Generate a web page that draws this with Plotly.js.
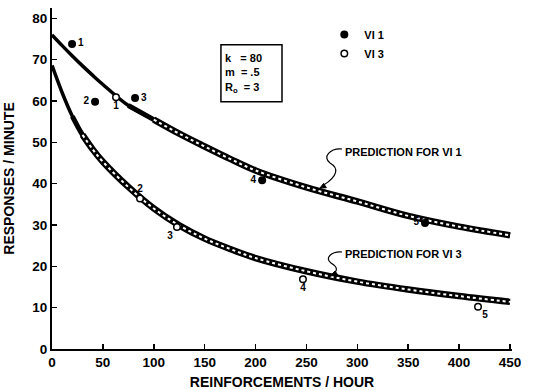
<!DOCTYPE html>
<html><head><meta charset="utf-8">
<script src="https://cdn.plot.ly/plotly-3.0.1.min.js"></script>
<style>html,body{margin:0;padding:0;background:#fff}#chart{width:533px;height:390px}</style>
</head><body><div id="chart"></div>
<script>
// Prediction curves
const curveX  = [0, 10, 20, 30, 40, 50, 75, 100, 125, 150, 175, 200, 250, 300, 350, 400, 450];
const predVI1 = [76, 73.4, 70.9, 68.5, 66.2, 64.0, 58.9, 55.5, 52.1, 49.0, 46.0, 43.2, 39.1, 35.7, 32.2, 29.6, 27.5];
const predVI3 = [68.6, 62.0, 56.3, 51.8, 48.3, 45.3, 39.2, 34.0, 29.9, 26.7, 24.2, 22.0, 18.8, 16.3, 14.4, 12.8, 11.4];

// Observed points
const vi1X = [19.7, 42.3, 81.6, 206.5, 366.5];
const vi1Y = [73.8, 59.8, 60.7, 40.8, 30.5];
const vi3X = [62.9, 86.5, 122.8, 246.6, 418.6];
const vi3Y = [60.9, 36.4, 29.5, 16.9, 10.2];
const pointLabels = ['1', '2', '3', '4', '5'];

const xTicks = [0, 50, 100, 150, 200, 250, 300, 350, 400, 450];
const yTicks = [0, 10, 20, 30, 40, 50, 60, 70, 80];

const FONT = 'Liberation Sans, Arial, sans-serif';

function sub(xs, ys, from) {
  const ox = [], oy = [];
  xs.forEach((x, i) => { if (x >= from) { ox.push(x); oy.push(ys[i]); } });
  return {x: ox, y: oy};
}
function band(ys, midFrom, from) {
  const m = sub(curveX, ys, midFrom);
  const s = sub(curveX, ys, from);
  return [
    {x: curveX, y: ys, mode: 'lines', line: {color: '#000', width: 3.5, shape: 'spline'}, showlegend: false, hoverinfo: 'skip'},
    {x: m.x, y: m.y, mode: 'lines', line: {color: '#000', width: 5, shape: 'spline'}, showlegend: false, hoverinfo: 'skip'},
    {x: s.x, y: s.y, mode: 'lines', line: {color: '#000', width: 6.5, shape: 'spline'}, showlegend: false, hoverinfo: 'skip'},
    {x: s.x, y: s.y, mode: 'lines', line: {color: '#fff', width: 2, dash: 'dot', shape: 'spline'}, showlegend: false, hoverinfo: 'skip'}
  ];
}
const labelFont = {family: FONT, size: 10, color: '#000', weight: 'bold'};

const traces = [
  ...band(predVI1, 75, 100),
  ...band(predVI3, 20, 30),
  {x: vi1X, y: vi1Y, mode: 'markers', name: 'VI 1',
   marker: {symbol: 'circle', size: 8, color: '#000'}},
  {x: vi3X, y: vi3Y, mode: 'markers', name: 'VI 3',
   marker: {symbol: 'circle', size: 6.5, color: '#fff', line: {color: '#000', width: 1.5}}},
  {x: vi1X, y: vi1Y, mode: 'markers+text', text: pointLabels, showlegend: false, hoverinfo: 'skip',
   marker: {size: 8, opacity: 0},
   textposition: ['middle right', 'middle left', 'middle right', 'middle left', 'middle left'],
   textfont: labelFont},
  {x: vi3X, y: vi3Y, mode: 'markers+text', text: pointLabels, showlegend: false, hoverinfo: 'skip',
   marker: {size: 5, opacity: 0},
   textposition: ['bottom center', 'top center', 'bottom left', 'bottom center', 'bottom right'],
   textfont: labelFont}
];

const axisCommon = {
  showgrid: false, zeroline: false, showline: true, linecolor: '#000', linewidth: 2,
  ticks: 'inside', ticklen: 5, tickwidth: 1.5, tickcolor: '#000',
  tickfont: {family: FONT, size: 13.5, color: '#000', weight: 'bold'}
};

const squiggle1 = 'M 285.0 48.39 C 273.2 48.63, 265.3 46.46, 273.2 45.0 C 282.0 43.79, 281.0 41.86, 266.5 39.6';
const head1 = 'M 263.3 38.95 L 269.6 39.02 L 266.9 40.06 Z';
const squiggle3 = 'M 285.0 23.47 C 275.1 23.7, 267.3 22.0, 274.1 20.8 C 281.0 19.84, 281.0 18.87, 275.3 17.95';
const head3 = 'M 273.2 17.66 L 280.8 17.87 L 278.2 18.88 Z';

const layout = {
  width: 533, height: 390,
  margin: {l: 52, r: 21, t: 8, b: 41},
  paper_bgcolor: '#fff', plot_bgcolor: '#fff',
  font: {family: FONT, color: '#000'},
  xaxis: Object.assign({}, axisCommon, {
    range: [0, 452], tickvals: xTicks, ticktext: xTicks.map(String),
    title: {text: 'REINFORCEMENTS / HOUR', standoff: 12,
            font: {family: FONT, size: 14, color: '#000', weight: 'bold'}}
  }),
  yaxis: Object.assign({}, axisCommon, {
    range: [0, 82.5], tickvals: yTicks, ticktext: yTicks.map(String),
    title: {text: 'RESPONSES / MINUTE', standoff: 14,
            font: {family: FONT, size: 14, color: '#000', weight: 'bold'}}
  }),
  showlegend: true,
  legend: {x: 0.592, xanchor: 'left', y: 0.965, yanchor: 'top', bgcolor: 'rgba(0,0,0,0)',
           font: {family: FONT, size: 11, color: '#000', weight: 'bold'}, tracegroupgap: 0},
  shapes: [
    {type: 'rect', xref: 'x', yref: 'y', x0: 166, x1: 226, y0: 59.8, y1: 73.6,
     line: {color: '#000', width: 1.5}, fillcolor: 'rgba(0,0,0,0)'},
    {type: 'path', xref: 'x', yref: 'y', path: squiggle1, line: {color: '#000', width: 1.2}},
    {type: 'path', xref: 'x', yref: 'y', path: head1, line: {color: '#000', width: 1}, fillcolor: '#000'},
    {type: 'path', xref: 'x', yref: 'y', path: squiggle3, line: {color: '#000', width: 1.2}},
    {type: 'path', xref: 'x', yref: 'y', path: head3, line: {color: '#000', width: 1}, fillcolor: '#000'}
  ],
  annotations: [
    {x: 168, y: 66.7, xref: 'x', yref: 'y', xanchor: 'left', yanchor: 'middle', align: 'left', showarrow: false,
     text: 'k&nbsp;&nbsp;&nbsp;= 80<br>m&nbsp;&nbsp;= .5<br>R<sub>o</sub>&nbsp;&nbsp;= 3',
     font: {family: FONT, size: 11, color: '#000', weight: 'bold'}},
    {x: 286, y: 47.7, xref: 'x', yref: 'y', xanchor: 'left', yanchor: 'middle', showarrow: false,
     text: 'PREDICTION FOR VI 1', font: {family: FONT, size: 11, color: '#000', weight: 'bold'}},
    {x: 286, y: 23.0, xref: 'x', yref: 'y', xanchor: 'left', yanchor: 'middle', showarrow: false,
     text: 'PREDICTION FOR VI 3', font: {family: FONT, size: 11, color: '#000', weight: 'bold'}}
  ]
};

Plotly.newPlot('chart', traces, layout, {staticPlot: true, displayModeBar: false});
</script>
</body></html>
